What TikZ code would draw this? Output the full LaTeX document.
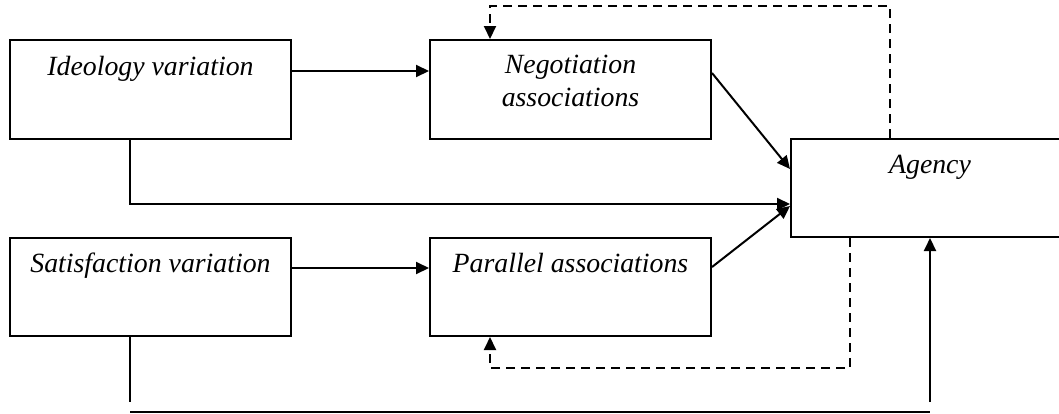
\documentclass[tikz,border=0pt]{standalone}
\usepackage{fontspec}
\setmainfont{Liberation Serif}
\usetikzlibrary{arrows.meta}
\begin{document}
\begin{tikzpicture}[x=1pt,y=-1pt,
  box/.style={draw, line width=2pt, rectangle, inner sep=0pt, anchor=north west},
  lbl/.style={font=\itshape\fontsize{27.8}{33}\selectfont, inner sep=0pt, anchor=base, align=center},
  conn/.style={line width=2pt},
  arr/.style={conn, -{Triangle[length=13pt,width=12pt]}},
  dsh/.style={line width=2pt, dash pattern=on 9pt off 6pt}]
\useasboundingbox (0,0) rectangle (1059,413);
\clip (0,0) rectangle (1059,413);
% boxes
\node[box, minimum width=281pt, minimum height=99pt] (ideo) at (9,39) {};
\node[box, minimum width=281pt, minimum height=99pt] (neg) at (429,39) {};
\node[box, minimum width=290pt, minimum height=98pt] (agency) at (790,138) {};
\node[box, minimum width=281pt, minimum height=98pt] (sat) at (9,237) {};
\node[box, minimum width=281pt, minimum height=98pt] (par) at (429,237) {};
% labels
\node[lbl] (ideoT) at ([yshift=-36pt]ideo.north) {Ideology variation};
\node[lbl] (negT) at ([yshift=-67pt]neg.north) {Negotiation\\associations};
\node[lbl, xshift=-6pt] (agencyT) at ([yshift=-35pt]agency.north) {Agency};
\node[lbl] (satT) at ([yshift=-35pt]sat.north) {Satisfaction variation};
\node[lbl] (parT) at ([yshift=-35pt]par.north) {Parallel associations};
% coordinates
\coordinate (topY) at (0,6);
\coordinate (botY) at (0,368);
\coordinate (s1) at (130,402);
\coordinate (h1) at (130,412);
\coordinate (h2) at (930,412);
\coordinate (a1) at (930,402);
\coordinate (dt) at ([xshift=100pt]agency.north west);
\coordinate (db) at ([xshift=60pt]agency.south west);
\coordinate (nt) at ([xshift=61pt]neg.north west);
\coordinate (pb) at ([xshift=61pt]par.south west);
% connectors
\draw[arr] ([yshift=-32pt]ideo.north east) -- ([yshift=-32pt]neg.north west);
\draw[arr] ([xshift=121pt]ideo.south west) |- ([yshift=-66pt]agency.north west);
\draw[arr] ([yshift=-34pt]neg.north east) -- ([yshift=-31pt]agency.north west);
\draw[arr] ([yshift=-30pt]par.north east) -- ([yshift=-68pt]agency.north west);
\draw[arr] ([yshift=-31pt]sat.north east) -- ([yshift=-31pt]par.north west);
\draw[conn] ([xshift=121pt]sat.south west) -- (s1);
\draw[conn] (h1) -- (h2);
\draw[arr] (a1) -- (agency.south west -| a1);
\draw[dsh, -{Triangle[length=13pt,width=12pt]}] (dt) -- (dt |- topY) -- (nt |- topY) -- (nt);
\draw[dsh, -{Triangle[length=13pt,width=12pt]}] (db) -- (db |- botY) -- (pb |- botY) -- (pb);
\end{tikzpicture}
\end{document}
